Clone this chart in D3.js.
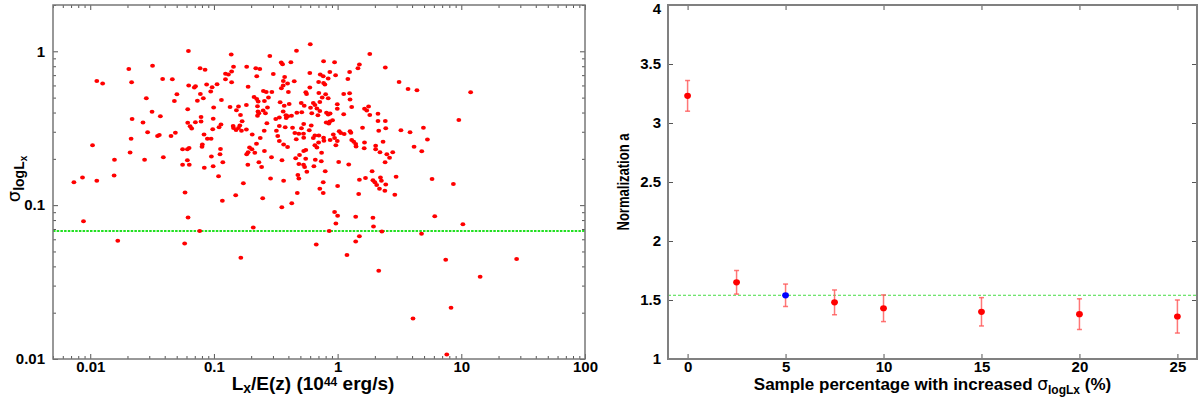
<!DOCTYPE html>
<html><head><meta charset="utf-8">
<script src="https://cdn.jsdelivr.net/npm/d3@7"></script>
<style>
body{margin:0;background:#fff;}
svg{display:block;}
text{font-family:"Liberation Sans",Arial,Helvetica,sans-serif;font-weight:bold;fill:#000;}
</style></head><body>
<svg id="c" width="1200" height="397"></svg>
<script>
// ---- Left panel data: [Lx/E(z) (1e44 erg/s), sigma_logLx]
const clusters = [
[0.00738,0.141],[0.00866,0.151],[0.00882,0.0787],[0.01044,0.245],[0.0113,0.642],[0.0113,0.144],[0.0126,0.617],[0.0157,0.197],[0.0156,0.156],[0.0167,0.0588],[0.0205,0.767],[0.0216,0.629],[0.0218,0.363],[0.0214,0.270],[0.0210,0.220],[0.0275,0.197],[0.0284,0.495],[0.0319,0.807],[0.0316,0.404],[0.0267,0.345],[0.0291,0.298],[0.035,0.282],[0.0362,0.286],[0.0369,0.378],[0.0385,0.661],[0.039,0.205],
[0.0622,1.005],[0.138,0.952],[0.283,0.932],[0.0773,0.775],[0.0848,0.760],[0.144,0.795],[0.184,0.795],[0.218,0.775],[0.235,0.767],[0.35,0.845],[0.359,0.823],[0.419,0.848],[0.124,0.716],[0.139,0.738],[0.131,0.708],[0.124,0.658],[0.139,0.629],[0.222,0.688],[0.302,0.712],[0.373,0.681],[0.0461,0.658],[0.364,0.642],[0.394,0.617],[0.446,0.638],[0.0625,0.599],[0.0694,0.581],[0.071,0.592],[0.0873,0.608],[0.0967,0.584],[0.106,0.611],[0.0942,0.547],[0.189,0.589],[0.363,0.599],[0.351,0.575],[0.251,0.552],[0.265,0.544],[0.294,0.544],[0.4,0.544],[0.0502,0.526],[0.0777,0.528],[0.0821,0.495],[0.0735,0.478],[0.0479,0.475],[0.115,0.482],[0.211,0.505],[0.222,0.49],[0.228,0.471],[0.276,0.5],[0.256,0.475],[0.343,0.466],[0.37,0.442],[0.406,0.455],[0.135,0.435],[0.158,0.438],[0.152,0.414],[0.183,0.448],[0.225,0.44],[0.25,0.412],[0.271,0.431],[0.363,0.406],[0.382,0.384],[0.0614,0.42],[0.0995,0.431],[0.0787,0.374],[0.0987,0.365],[0.164,0.385],[0.227,0.406],[0.231,0.395],[0.225,0.381],[0.261,0.395],[0.316,0.363],[0.338,0.371],[0.384,0.369],[0.396,0.378],[0.424,0.381],[0.0614,0.343],[0.0642,0.326],[0.0661,0.315],[0.0708,0.346],[0.0787,0.35],[0.114,0.334],[0.11,0.321],[0.0978,0.311],[0.143,0.327],[0.144,0.317],[0.151,0.308],[0.158,0.317],[0.169,0.351],[0.162,0.33],[0.167,0.304],[0.183,0.31],[0.268,0.341],[0.338,0.327],[0.377,0.321],[0.432,0.319],[0.045,0.282],[0.0488,0.296],[0.0832,0.288],[0.0885,0.27],[0.0949,0.27],[0.204,0.288],[0.237,0.273],[0.255,0.305],[0.32,0.305],[0.328,0.282],[0.338,0.261],[0.366,0.248],[0.394,0.239],[0.0806,0.248],[0.0801,0.24],[0.0558,0.231],[0.061,0.231],[0.063,0.235],[0.113,0.232],[0.112,0.214],[0.194,0.237],[0.203,0.231],[0.189,0.221],[0.184,0.214],[0.214,0.219],[0.221,0.251],[0.256,0.225],[0.292,0.205],[0.355,0.196],[0.061,0.196],[0.0558,0.183],[0.0632,0.183],[0.0954,0.207],[0.118,0.19],[0.0986,0.179],[0.0836,0.175],[0.188,0.183],[0.231,0.19],[0.243,0.177],[0.109,0.154],[0.173,0.139],[0.287,0.149],[0.366,0.144],
[0.601,1.11],[0.465,1.01],[1.82,0.96],[0.77,0.861],[0.945,0.848],[1.5,0.82],[1.46,0.775],[2.43,0.784],[0.596,0.722],[0.865,0.733],[0.724,0.706],[0.765,0.688],[0.963,0.698],[1.25,0.733],[1.21,0.661],[0.702,0.632],[0.77,0.623],[0.789,0.608],[0.839,0.665],[3.14,0.632],[3.71,0.569],[4.38,0.558],[0.596,0.581],[0.553,0.542],[0.561,0.528],[0.705,0.536],[0.8,0.526],[1.12,0.528],[1.25,0.533],[0.751,0.5],[0.839,0.495],[1.26,0.486],[0.508,0.461],[0.537,0.442],[0.636,0.461],[0.656,0.448],[0.68,0.425],[0.718,0.468],[0.604,0.43],[0.994,0.453],[0.994,0.423],[1.3,0.434],[1.65,0.423],[1.78,0.438],[1.72,0.412],[1.82,0.385],[2.12,0.393],[2.43,0.353],[2.12,0.353],[0.468,0.398],[0.513,0.402],[0.618,0.395],[0.693,0.384],[0.813,0.398],[0.839,0.388],[0.87,0.394],[1.12,0.39],[0.718,0.41],[0.865,0.35],[0.91,0.356],[0.809,0.345],[0.849,0.339],[0.532,0.337],[0.612,0.33],[0.51,0.316],[0.59,0.307],[1.03,0.302],[1.06,0.294],[1.13,0.29],[0.923,0.288],[1.26,0.302],[1.28,0.296],[1.59,0.319],[2.15,0.305],[2.45,0.316],[3.25,0.307],[3.85,0.298],[4.94,0.318],[0.451,0.294],[0.486,0.291],[0.53,0.291],[0.532,0.274],[0.463,0.268],[0.655,0.284],[0.705,0.284],[0.636,0.273],[0.702,0.255],[0.77,0.274],[0.775,0.262],[0.87,0.265],[0.945,0.273],[0.994,0.261],[0.968,0.245],[1.3,0.265],[1.35,0.258],[1.4,0.25],[1.41,0.241],[1.65,0.255],[1.64,0.234],[2.03,0.243],[2.03,0.231],[2.33,0.258],[2.2,0.221],[2.5,0.214],[2.79,0.221],[2.63,0.203],[2.42,0.19],[4.15,0.24],[4.79,0.224],[0.655,0.245],[0.68,0.237],[0.532,0.225],[0.553,0.228],[0.492,0.212],[0.458,0.202],[0.552,0.2],[0.66,0.197],[0.742,0.219],[0.738,0.193],[1.02,0.191],[1.23,0.184],[0.486,0.185],[0.53,0.183],[0.541,0.177],[0.564,0.165],[0.643,0.179],[0.794,0.166],[0.477,0.157],[0.486,0.149],[1.9,0.166],[1.68,0.15],[1.5,0.146],[1.93,0.145],[2.0,0.141],[2.22,0.151],[2.26,0.144],[2.07,0.135],[2.45,0.136],[2.97,0.153],[0.765,0.141],[1.0,0.133],[0.718,0.128],[2.18,0.128],
[0.0584,0.121],[0.0618,0.0832],[0.058,0.0564],[0.0767,0.068],[0.117,0.107],[0.15,0.116],[0.165,0.0455],[0.208,0.0716],[0.248,0.111],[0.354,0.097],[0.426,0.103],[0.472,0.12],[0.672,0.0554],[0.855,0.068],[0.945,0.0901],[1.0,0.0852],[0.968,0.076],[1.4,0.0841],[1.93,0.0829],[1.95,0.0727],[1.5,0.0628],[1.4,0.0581],[2.28,0.0675],[1.19,0.0475],[2.15,0.0374],[4.77,0.0651],[4.07,0.0183],[1.48,0.118],[2.9,0.117],[0.765,0.12],[2.41,0.124],
[5.32,0.267],[9.55,0.358],[11.9,0.542],[5.8,0.148],[8.63,0.137],[6.1,0.0847],[10.3,0.0751],[7.48,0.0442],[28,0.0447],[14.2,0.0343],[8.26,0.0215],[7.63,0.0107]
];
const sigmaRef = 0.068;
const lxDomain = [0.005, 100];
const sigmaDomain = [0.01, 2];
const lxTicks = [0.01, 0.1, 1, 10, 100];
const sigmaTicks = [0.01, 0.1, 1];

// ---- Right panel data
const pct = [0, 2.5, 5, 7.5, 10, 15, 20, 25];
const normA = [3.23, 1.65, 1.54, 1.48, 1.43, 1.40, 1.38, 1.36];
const normErr = [0.13, 0.10, 0.095, 0.105, 0.113, 0.12, 0.13, 0.14];
const normRef = 1.54;
const fiducialPct = 5;
const pctDomain = [-1, 26];
const normDomain = [1, 4];
const pctTicks = [0, 5, 10, 15, 20, 25];
const normTicks = [1, 1.5, 2, 2.5, 3, 3.5, 4];

const svg = d3.select('#c');

function styleAxis(g, color) {
  g.select('.domain').remove();
  g.selectAll('.tick line').attr('stroke', color).attr('stroke-width', 1);
  g.selectAll('.tick text').attr('font-size', 15).attr('font-weight', 'bold')
    .attr('font-family', '"Liberation Sans",Arial,sans-serif').attr('fill', '#000');
}

// ================= LEFT PANEL =================
const L = {x0: 53, x1: 585, y0: 5, y1: 359};
const xL = d3.scaleLog().domain(lxDomain).range([L.x0, L.x1]);
const yL = d3.scaleLog().domain(sigmaDomain).range([L.y1, L.y0]);
const xMinor = xL.ticks().filter(v => !lxTicks.some(t => Math.abs(t - v) / t < 1e-6));
const yMinor = yL.ticks().filter(v => !sigmaTicks.some(t => Math.abs(t - v) / t < 1e-6));
const left = svg.append('g');

left.append('g').attr('transform', `translate(0,${L.y1})`)
  .call(d3.axisBottom(xL).tickValues(lxTicks).tickFormat(d => String(d)).tickSizeInner(-5).tickSizeOuter(0).tickPadding(2))
  .call(g => styleAxis(g, '#555'));
left.append('g').attr('transform', `translate(0,${L.y1})`)
  .call(d3.axisBottom(xL).tickValues(xMinor).tickFormat('').tickSizeInner(-3).tickSizeOuter(0))
  .call(g => styleAxis(g, '#555'));
left.append('g').attr('transform', `translate(0,${L.y0})`)
  .call(d3.axisTop(xL).tickValues(lxTicks).tickFormat('').tickSizeInner(-5).tickSizeOuter(0))
  .call(g => styleAxis(g, '#555'));
left.append('g').attr('transform', `translate(0,${L.y0})`)
  .call(d3.axisTop(xL).tickValues(xMinor).tickFormat('').tickSizeInner(-3).tickSizeOuter(0))
  .call(g => styleAxis(g, '#555'));
left.append('g').attr('transform', `translate(${L.x0},0)`)
  .call(d3.axisLeft(yL).tickValues(sigmaTicks).tickFormat(d => String(d)).tickSizeInner(-5).tickSizeOuter(0).tickPadding(8))
  .call(g => styleAxis(g, '#555'));
left.append('g').attr('transform', `translate(${L.x0},0)`)
  .call(d3.axisLeft(yL).tickValues(yMinor).tickFormat('').tickSizeInner(-3).tickSizeOuter(0))
  .call(g => styleAxis(g, '#555'));
left.append('g').attr('transform', `translate(${L.x1},0)`)
  .call(d3.axisRight(yL).tickValues(sigmaTicks).tickFormat('').tickSizeInner(-5).tickSizeOuter(0))
  .call(g => styleAxis(g, '#555'));
left.append('g').attr('transform', `translate(${L.x1},0)`)
  .call(d3.axisRight(yL).tickValues(yMinor).tickFormat('').tickSizeInner(-3).tickSizeOuter(0))
  .call(g => styleAxis(g, '#555'));

left.append('line')
  .attr('x1', L.x0).attr('x2', L.x1).attr('y1', yL(sigmaRef)).attr('y2', yL(sigmaRef))
  .attr('stroke', '#22e022').attr('stroke-width', 2).attr('stroke-dasharray', '2.5,1.2');

left.append('g').selectAll('ellipse').data(clusters).join('ellipse')
  .attr('cx', d => xL(d[0])).attr('cy', d => yL(d[1]))
  .attr('rx', 2.4).attr('ry', 2.0).attr('fill', '#ff0000');

left.append('rect').attr('x', L.x0).attr('y', L.y0).attr('width', L.x1 - L.x0).attr('height', L.y1 - L.y0)
  .attr('fill', 'none').attr('stroke', '#777').attr('stroke-width', 1.5);

// x label
const xlab = left.append('text').attr('x', (L.x0 + L.x1) / 2 - 6).attr('y', 390)
  .attr('text-anchor', 'middle').attr('font-size', 19);
xlab.append('tspan').text('L');
xlab.append('tspan').attr('dy', 2.5).attr('font-size', 14).text('x');
xlab.append('tspan').attr('dy', -2.5).text('/E(z) (10');
xlab.append('tspan').attr('dy', -4).attr('font-size', 12).text('44');
xlab.append('tspan').attr('dy', 4).text(' erg/s)');

// y label
const ylab = left.append('text').attr('transform', `translate(20,${(L.y0 + L.y1) / 2 - 3}) rotate(-90)`)
  .attr('text-anchor', 'middle').attr('font-size', 18);
ylab.append('tspan').attr('font-weight', 'normal').attr('font-family', '"DejaVu Sans",sans-serif').text('σ');
ylab.append('tspan').attr('dy', 4).attr('font-size', 14).text('logL');
ylab.append('tspan').attr('dy', 3).attr('font-size', 10).text('x');

// ================= RIGHT PANEL =================
const R = {x0: 668, x1: 1197, y0: 5, y1: 359};
const xR = d3.scaleLinear().domain(pctDomain).range([R.x0, R.x1]);
const yR = d3.scaleLinear().domain(normDomain).range([R.y1, R.y0]);
const right = svg.append('g');

right.append('g').attr('transform', `translate(0,${R.y1})`)
  .call(d3.axisBottom(xR).tickValues(pctTicks).tickFormat(d => String(d)).tickSizeInner(-5).tickSizeOuter(0).tickPadding(2))
  .call(g => styleAxis(g, '#555'));
right.append('g').attr('transform', `translate(0,${R.y0})`)
  .call(d3.axisTop(xR).tickValues(pctTicks).tickFormat('').tickSizeInner(-5).tickSizeOuter(0))
  .call(g => styleAxis(g, '#555'));
right.append('g').attr('transform', `translate(${R.x0},0)`)
  .call(d3.axisLeft(yR).tickValues(normTicks).tickFormat(d => String(d)).tickSizeInner(-5).tickSizeOuter(0).tickPadding(7))
  .call(g => styleAxis(g, '#555'))
  .call(g => g.selectAll('.tick text').filter(d => d === normDomain[1]).attr('dy', '0.55em'));
right.append('g').attr('transform', `translate(${R.x1},0)`)
  .call(d3.axisRight(yR).tickValues(normTicks).tickFormat('').tickSizeInner(-5).tickSizeOuter(0))
  .call(g => styleAxis(g, '#555'));

right.append('line')
  .attr('x1', R.x0).attr('x2', R.x1).attr('y1', yR(normRef)).attr('y2', yR(normRef))
  .attr('stroke', '#44dd44').attr('stroke-width', 1).attr('stroke-dasharray', '3,2');

const rows = pct.map((p, i) => ({p, a: normA[i], e: normErr[i]}));
const eb = right.append('g').attr('stroke', '#ff5555').attr('stroke-opacity', 0.8).attr('stroke-width', 1.5);
eb.selectAll('line.v').data(rows).join('line').attr('class', 'v')
  .attr('x1', d => xR(d.p)).attr('x2', d => xR(d.p))
  .attr('y1', d => yR(d.a - d.e)).attr('y2', d => yR(d.a + d.e));
eb.selectAll('line.t').data(rows).join('line').attr('class', 't')
  .attr('x1', d => xR(d.p) - 2.5).attr('x2', d => xR(d.p) + 2.5)
  .attr('y1', d => yR(d.a + d.e)).attr('y2', d => yR(d.a + d.e));
eb.selectAll('line.b').data(rows).join('line').attr('class', 'b')
  .attr('x1', d => xR(d.p) - 2.5).attr('x2', d => xR(d.p) + 2.5)
  .attr('y1', d => yR(d.a - d.e)).attr('y2', d => yR(d.a - d.e));

right.append('g').selectAll('ellipse').data(rows).join('ellipse')
  .attr('cx', d => xR(d.p)).attr('cy', d => yR(d.a))
  .attr('rx', 3.4).attr('ry', 3.1)
  .attr('fill', d => d.p === fiducialPct ? '#0000ff' : '#ff0000');

right.append('rect').attr('x', R.x0).attr('y', R.y0).attr('width', R.x1 - R.x0).attr('height', R.y1 - R.y0)
  .attr('fill', 'none').attr('stroke', '#808080').attr('stroke-width', 2);

const rxl = right.append('text').attr('x', (R.x0 + R.x1) / 2).attr('y', 390)
  .attr('text-anchor', 'middle').attr('font-size', 17);
rxl.append('tspan').text('Sample percentage with increased ');
rxl.append('tspan').attr('font-weight', 'normal').attr('font-family', '"DejaVu Sans",sans-serif').text('σ');
rxl.append('tspan').attr('dy', 3.5).attr('font-size', 12).text('logLx');
rxl.append('tspan').attr('dy', -3.5).text(' (%)');

right.append('text').attr('transform', `translate(629,${(R.y0 + R.y1) / 2}) rotate(-90)`)
  .attr('text-anchor', 'middle').attr('font-size', 16)
  .attr('textLength', 97).attr('lengthAdjust', 'spacingAndGlyphs')
  .text('Normalization a');
</script>
</body></html>
